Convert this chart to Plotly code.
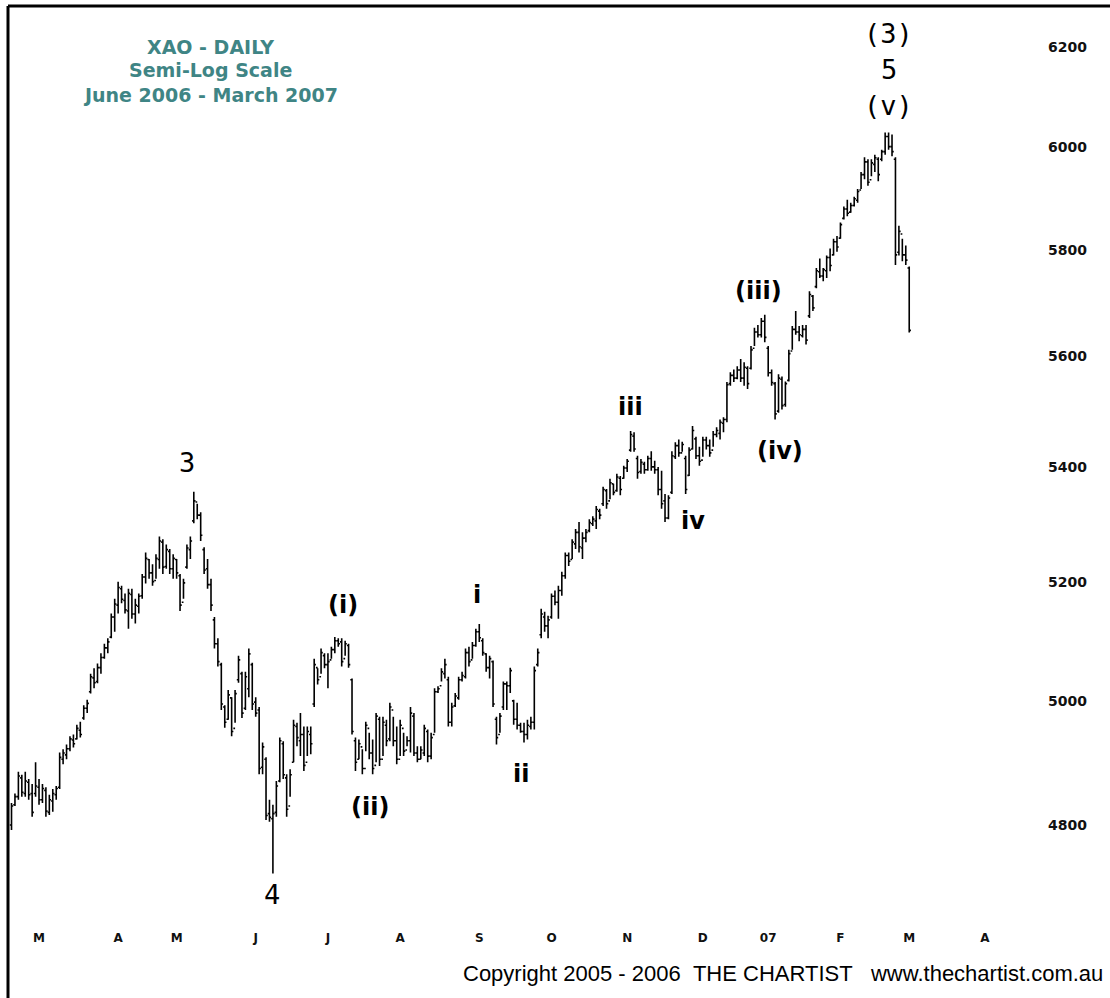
import math
import plotly.graph_objects as go

# ---------------- data ----------------
# trading-day index 0 = 17 Feb 2006 ... 261 = 1 Mar 2007
opens = [
 4800,4832,4845,4875,4850,4868,4850,4850,4860,4840,4855,4820,4838,4848,4860,4905,4912,4922,4936,4938,
 4952,4972,4988,5015,5038,5032,5055,5072,5088,5106,5140,5160,5188,5168,5150,5178,5145,5158,5176,5208,
 5238,5215,5202,5238,5268,5226,5252,5222,5238,5210,5165,5225,5255,5305,5338,5315,5255,5222,5195,5135,
 5095,5060,4990,4970,5005,4955,5035,5045,4988,5020,5060,4998,4985,4892,4905,4818,4810,4820,4870,4930,
 4875,4830,4900,4958,4935,4945,4900,4945,4995,5055,5040,5075,5060,5068,5085,5100,5098,5070,5092,5035,
 4935,4905,4925,4890,4955,4915,4895,4970,4905,4960,4938,4985,4935,4905,4955,4920,4935,4975,4915,4905,
 4915,4950,4910,4945,5015,5025,5045,5035,4965,4992,5005,5035,5040,5080,5068,5092,5115,5100,5078,5055,
 5065,4970,4945,4990,5028,5025,5000,4970,4960,4950,4945,4958,4965,5060,5110,5140,5125,5140,5175,5165,
 5185,5210,5245,5238,5265,5285,5258,5275,5288,5300,5305,5322,5335,5358,5340,5370,5358,5380,5380,5398,
 5430,5455,5415,5392,5405,5395,5415,5400,5395,5360,5340,5310,5355,5418,5438,5425,5415,5385,5432,5450,
 5420,5412,5448,5438,5430,5458,5460,5478,5485,5550,5565,5560,5575,5560,5578,5578,5615,5645,5640,5665,
 5615,5570,5550,5500,5558,5512,5556,5610,5650,5645,5638,5650,5675,5712,5730,5758,5750,5760,5785,5790,
 5815,5822,5860,5878,5872,5885,5895,5915,5945,5970,5935,5965,5975,5975,5990,6020,6000,5975,5795,5830,
 5790,5765]
highs = [
 4835,4850,4885,4880,4885,4873,4865,4900,4873,4865,4860,4848,4857,4862,4916,4921,4929,4942,4945,4961,
 4966,4993,5002,5045,5054,5062,5079,5095,5104,5146,5171,5200,5193,5180,5188,5188,5171,5180,5213,5250,
 5239,5230,5247,5278,5273,5264,5256,5247,5239,5213,5205,5264,5278,5356,5335,5320,5259,5239,5205,5140,
 5104,5063,4993,5018,5006,5018,5075,5048,5048,5087,5063,5006,4990,4932,4908,4840,4832,4870,4940,4934,
 4881,4889,4969,4964,4980,4958,4958,4958,5070,5054,5087,5079,5079,5090,5106,5104,5104,5100,5095,5037,
 4940,4937,4921,4966,4948,4937,4980,4974,4974,4969,4997,4974,4958,4969,4948,4942,4990,4980,4926,4926,
 4961,4953,4948,5021,5024,5054,5070,5040,4997,5013,5040,5048,5087,5090,5098,5120,5128,5104,5079,5075,
 5067,4974,4980,5032,5032,5055,5002,4997,4964,4964,4969,4974,5057,5087,5154,5149,5142,5180,5185,5193,
 5217,5250,5250,5273,5291,5303,5285,5291,5308,5313,5331,5326,5365,5361,5379,5370,5388,5384,5402,5414,
 5464,5462,5420,5414,5409,5420,5428,5411,5400,5393,5352,5350,5428,5444,5449,5445,5420,5435,5473,5454,
 5436,5454,5454,5449,5464,5471,5485,5489,5553,5571,5576,5582,5595,5589,5582,5619,5653,5658,5671,5677,
 5619,5576,5553,5567,5563,5554,5612,5656,5684,5656,5658,5658,5721,5714,5765,5783,5765,5789,5802,5821,
 5826,5852,5883,5896,5890,5902,5917,5950,5979,5975,5975,5984,5979,5994,6028,6028,6024,5979,5846,5821,
 5808,5768]
lows = [
 4792,4830,4840,4845,4845,4840,4813,4845,4832,4835,4813,4816,4821,4840,4857,4897,4905,4918,4924,4937,
 4940,4969,4980,5012,5021,5029,5045,5070,5079,5104,5115,5146,5163,5146,5120,5137,5129,5146,5171,5197,
 5205,5193,5205,5222,5213,5222,5213,5205,5205,5150,5171,5222,5239,5301,5308,5270,5213,5188,5150,5087,
 5057,4985,4956,4969,4942,4964,5030,4972,4985,5006,4985,4974,4881,4881,4808,4805,4724,4813,4868,4873,
 4813,4845,4900,4926,4910,4886,4910,4913,4990,5027,5045,5054,5021,5070,5079,5090,5057,5075,5055,4945,
 4886,4905,4881,4918,4905,4881,4900,4894,4910,4926,4934,4926,4897,4910,4910,4926,4916,4910,4900,4905,
 4910,4900,4905,4948,5013,5032,5037,4958,4958,4990,5002,5032,5037,5057,5070,5090,5098,5075,5048,5037,
 4990,4929,4948,4985,4985,5013,4961,4953,4948,4932,4937,4953,4953,5057,5104,5115,5104,5137,5160,5137,
 5176,5205,5227,5239,5256,5250,5239,5268,5285,5296,5291,5308,5331,5326,5343,5350,5356,5350,5379,5391,
 5427,5427,5379,5388,5388,5393,5393,5388,5350,5326,5303,5308,5352,5414,5418,5427,5352,5384,5431,5414,
 5402,5418,5431,5418,5436,5453,5449,5462,5480,5546,5553,5558,5553,5546,5540,5576,5619,5635,5635,5626,
 5563,5546,5485,5497,5503,5508,5554,5612,5640,5628,5635,5622,5671,5684,5727,5746,5740,5746,5759,5789,
 5796,5821,5858,5864,5871,5883,5890,5917,5936,5923,5942,5950,5932,5971,5984,5994,5981,5771,5789,5778,
 5771,5644]
closes = [
 4830,4845,4878,4852,4870,4848,4820,4862,4840,4858,4822,4840,4850,4858,4908,4915,4922,4938,4930,4955,
 4945,4988,4996,5040,5030,5055,5072,5088,5098,5140,5162,5190,5170,5152,5180,5145,5160,5175,5208,5240,
 5215,5200,5240,5270,5225,5255,5222,5240,5215,5160,5198,5258,5270,5340,5315,5280,5220,5195,5160,5095,
 5065,4995,4965,5010,4950,5012,5068,4980,5040,5078,4995,4980,4890,4925,4815,4812,4818,4862,4935,4880,
 4825,4880,4960,4940,4945,4895,4950,4930,5060,5035,5080,5060,5065,5085,5100,5095,5065,5095,5060,4950,
 4900,4930,4890,4960,4915,4890,4975,4905,4965,4935,4990,4935,4905,4960,4918,4935,4980,4915,4905,4920,
 4955,4910,4940,5015,5020,5048,5060,4965,4990,5008,5035,5042,5080,5065,5092,5115,5105,5080,5055,5070,
 4995,4940,4975,5028,5025,5050,4970,4960,4950,4945,4960,4965,5050,5080,5145,5125,5135,5175,5165,5185,
 5210,5245,5235,5268,5285,5260,5275,5285,5302,5308,5325,5315,5360,5335,5372,5355,5382,5360,5398,5410,
 5458,5432,5390,5408,5395,5415,5400,5395,5360,5335,5310,5345,5420,5438,5425,5440,5360,5430,5465,5420,
 5410,5448,5438,5425,5458,5465,5480,5485,5548,5565,5560,5575,5560,5580,5550,5612,5645,5640,5665,5635,
 5570,5552,5495,5560,5510,5550,5605,5650,5645,5640,5650,5630,5715,5690,5760,5750,5762,5785,5770,5815,
 5805,5848,5878,5870,5885,5898,5912,5945,5970,5930,5968,5978,5945,5990,6020,6000,5990,5790,5835,5790,
 5780,5648]
days = list(range(len(closes)))

# month axis labels and the trading-day index where each month starts
month_labels = ["M", "A", "M", "J", "J", "A", "S", "O", "N", "D", "07", "F", "M", "A"]
month_start_idx = [8, 31, 48, 71, 92, 113, 136, 157, 179, 201, 220, 241, 261, 283]

price_ticks = [4800, 5000, 5200, 5400, 5600, 5800, 6000, 6200]

# Elliott-wave labels: (text, trading-day index, price level)
wave_serif = [("3", 51.0, 5407), ("4", 75.7, 4691), ("(3)", 255.1, 6227), ("5", 255.1, 6155), ("(v)", 255.1, 6081)]
wave_sans = [("(i)", 96.4, 5160), ("(ii)", 104.2, 4829), ("i", 135.3, 5177), ("ii", 148.1, 4881),
             ("iii", 180.1, 5508), ("iv", 198.1, 5305), ("(iii)", 217.3, 5722), ("(iv)", 223.4, 5428)]

# ---------------- figure ----------------
fig = go.Figure()
fig.add_trace(go.Ohlc(
    x=days, open=opens, high=highs, low=lows, close=closes,
    increasing=dict(line=dict(color="black", width=1.6)),
    decreasing=dict(line=dict(color="black", width=1.6)),
    tickwidth=0.5, hoverinfo="skip", showlegend=False,
))

W, H = 1110, 998
ML, MR, MT, MB = 8, 100, 6, 83

fig.update_layout(
    width=W, height=H,
    margin=dict(l=ML, r=MR, t=MT, b=MB),
    paper_bgcolor="white", plot_bgcolor="white",
    showlegend=False,
    xaxis=dict(
        range=[-1.02, 290.3], rangeslider=dict(visible=False),
        tickmode="array", tickvals=month_start_idx, ticktext=month_labels,
        showgrid=False, zeroline=False, showline=False, ticks="",
        tickfont=dict(family="DejaVu Sans", size=12, color="#111", weight="bold"),
        ticklabelstandoff=14,
    ),
    yaxis=dict(
        type="log", range=[math.log10(4660), math.log10(6284)],
        side="right", tickmode="array", tickvals=price_ticks,
        ticktext=[str(v) for v in price_ticks],
        showgrid=False, zeroline=False, showline=False, ticks="",
        tickfont=dict(family="DejaVu Sans", size=14, color="#111", weight="bold"),
        ticklabelstandoff=37,
    ),
)

# frame lines (top and left)
fig.add_shape(type="line", xref="paper", yref="paper", x0=0, x1=1.2, y0=1.0, y1=1.0,
              line=dict(color="black", width=3))
fig.add_shape(type="line", xref="paper", yref="paper", x0=0, x1=0, y0=-0.2, y1=1.0,
              line=dict(color="black", width=3))

# title block
title_lines = ["XAO - DAILY", "Semi-Log Scale", "June 2006 - March 2007"]
title_y_px = [47, 70, 95]
plot_h = H - MT - MB
plot_w = W - ML - MR
for txt, ypx in zip(title_lines, title_y_px):
    fig.add_annotation(text=txt, xref="paper", yref="paper",
                       x=(210 - ML) / plot_w, y=1 - (ypx - MT) / plot_h,
                       xanchor="center", yanchor="middle", showarrow=False,
                       font=dict(family="DejaVu Sans", size=19, color="#3f8585", weight="bold"))

# wave labels
for txt, xi, pr in wave_serif:
    fig.add_annotation(text=txt, x=xi, y=math.log10(pr), xanchor="center", yanchor="middle",
                       showarrow=False, font=dict(family="DejaVu Sans Mono", size=27, color="black"))
for txt, xi, pr in wave_sans:
    fig.add_annotation(text=txt, x=xi, y=math.log10(pr), xanchor="center", yanchor="middle",
                       showarrow=False, font=dict(family="DejaVu Sans", size=24, color="black", weight="bold"))

# copyright line
fig.add_annotation(text="Copyright 2005 - 2006\u00a0\u00a0THE CHARTIST\u00a0\u00a0\u00a0www.thechartist.com.au",
                   xref="paper", yref="paper", x=(1105 - ML) / plot_w, y=-(973 - (H - MB)) / plot_h,
                   xanchor="right", yanchor="middle", showarrow=False,
                   font=dict(family="Liberation Sans", size=22, color="black"))

fig.write_html("out.html", config={"displayModeBar": False},
               post_script="document.body.style.margin='0px';document.body.style.padding='0px';")
